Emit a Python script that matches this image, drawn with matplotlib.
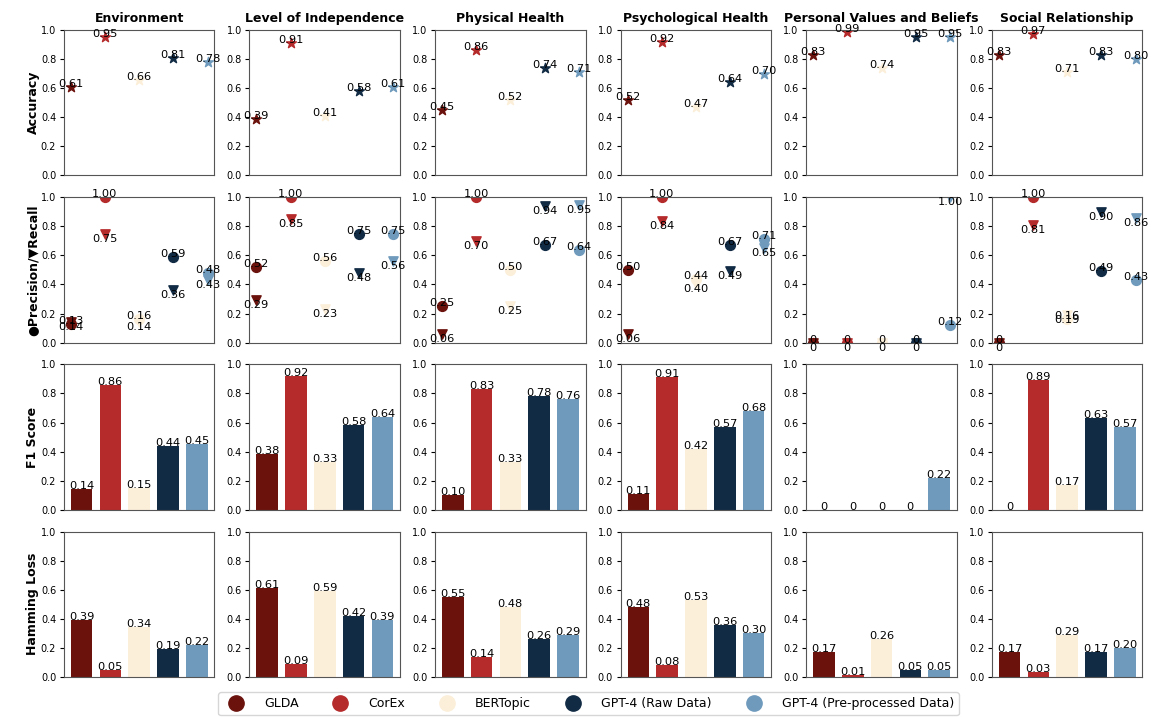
import matplotlib
matplotlib.use("Agg")
import matplotlib.pyplot as plt
from matplotlib.lines import Line2D

models = ["GLDA", "CorEx", "BERTopic", "GPT-4 (Raw Data)", "GPT-4 (Pre-processed Data)"]
colors = ["#6b120d", "#b52a2b", "#fcefda", "#122b45", "#6f9abc"]
domains = ["Environment", "Level of Independence", "Physical Health",
           "Psychological Health", "Personal Values and Beliefs", "Social Relationship"]

accuracy = [
    [0.61, 0.95, 0.66, 0.81, 0.78],
    [0.39, 0.91, 0.41, 0.58, 0.61],
    [0.45, 0.86, 0.52, 0.74, 0.71],
    [0.52, 0.92, 0.47, 0.64, 0.70],
    [0.83, 0.99, 0.74, 0.95, 0.95],
    [0.83, 0.97, 0.71, 0.83, 0.80],
]
precision = [
    [0.13, 1.00, 0.16, 0.59, 0.48],
    [0.52, 1.00, 0.56, 0.75, 0.75],
    [0.25, 1.00, 0.50, 0.67, 0.64],
    [0.50, 1.00, 0.44, 0.67, 0.71],
    [0, 0, 0, 0, 0.12],
    [0, 1.00, 0.16, 0.49, 0.43],
]
recall = [
    [0.14, 0.75, 0.14, 0.36, 0.43],
    [0.29, 0.85, 0.23, 0.48, 0.56],
    [0.06, 0.70, 0.25, 0.94, 0.95],
    [0.06, 0.84, 0.40, 0.49, 0.65],
    [0, 0, 0, 0, 1.00],
    [0, 0.81, 0.19, 0.90, 0.86],
]
f1 = [
    [0.14, 0.86, 0.15, 0.44, 0.45],
    [0.38, 0.92, 0.33, 0.58, 0.64],
    [0.10, 0.83, 0.33, 0.78, 0.76],
    [0.11, 0.91, 0.42, 0.57, 0.68],
    [0, 0, 0, 0, 0.22],
    [0, 0.89, 0.17, 0.63, 0.57],
]
hamming = [
    [0.39, 0.05, 0.34, 0.19, 0.22],
    [0.61, 0.09, 0.59, 0.42, 0.39],
    [0.55, 0.14, 0.48, 0.26, 0.29],
    [0.48, 0.08, 0.53, 0.36, 0.30],
    [0.17, 0.01, 0.26, 0.05, 0.05],
    [0.17, 0.03, 0.29, 0.17, 0.20],
]
row_labels = ["Accuracy", "\u25cfPrecision/\u25bcRecall", "F1 Score", "Hamming Loss"]


def fmt(v):
    return "0" if v == 0 else f"{v:.2f}"


fig, axes = plt.subplots(4, 6, figsize=(11.61, 7.17), dpi=100)
fig.subplots_adjust(left=0.055, right=0.984, top=0.958, bottom=0.056,
                    wspace=0.233, hspace=0.15)

lab = 8.2
x = list(range(5))
for c in range(6):
    # accuracy
    ax = axes[0, c]
    for i in x:
        ax.scatter(i, accuracy[c][i], marker="*", s=55, color=colors[i])
        ax.text(i, accuracy[c][i], fmt(accuracy[c][i]), ha="center", va="baseline", fontsize=lab)
    ax.set_title(domains[c], fontsize=9, fontweight="bold")

    # precision / recall
    ax = axes[1, c]
    for i in x:
        ax.scatter(i, precision[c][i], marker="o", s=50, color=colors[i])
        ax.scatter(i, recall[c][i], marker="v", s=45, color=colors[i])
        ax.text(i, precision[c][i], fmt(precision[c][i]), ha="center", va="baseline", fontsize=lab)
        ax.text(i, recall[c][i], fmt(recall[c][i]), ha="center", va="top", fontsize=lab)

    # f1 and hamming bars
    for r, vals in ((2, f1[c]), (3, hamming[c])):
        ax = axes[r, c]
        ax.bar(x, vals, color=colors, width=0.75)
        for i in x:
            ax.text(i, vals[i], fmt(vals[i]), ha="center", va="baseline", fontsize=lab)

for r in range(4):
    for c in range(6):
        ax = axes[r, c]
        ax.set_ylim(0, 1)
        ax.set_yticks([0, 0.2, 0.4, 0.6, 0.8, 1.0])
        ax.set_xticks([])
        ax.tick_params(axis="y", labelsize=7, length=3, pad=2.5)
        for s in ax.spines.values():
            s.set_color("#555555")
    axes[r, 0].set_ylabel(row_labels[r], fontsize=9, fontweight="bold", labelpad=1)

handles = [Line2D([], [], marker="o", linestyle="", markersize=11, color=col) for col in colors]
fig.legend(handles, models, loc="lower center", ncol=5, fontsize=9,
           bbox_to_anchor=(0.507, -0.006), columnspacing=2.36, handletextpad=1.24)

fig.savefig("out.png", dpi=100)
